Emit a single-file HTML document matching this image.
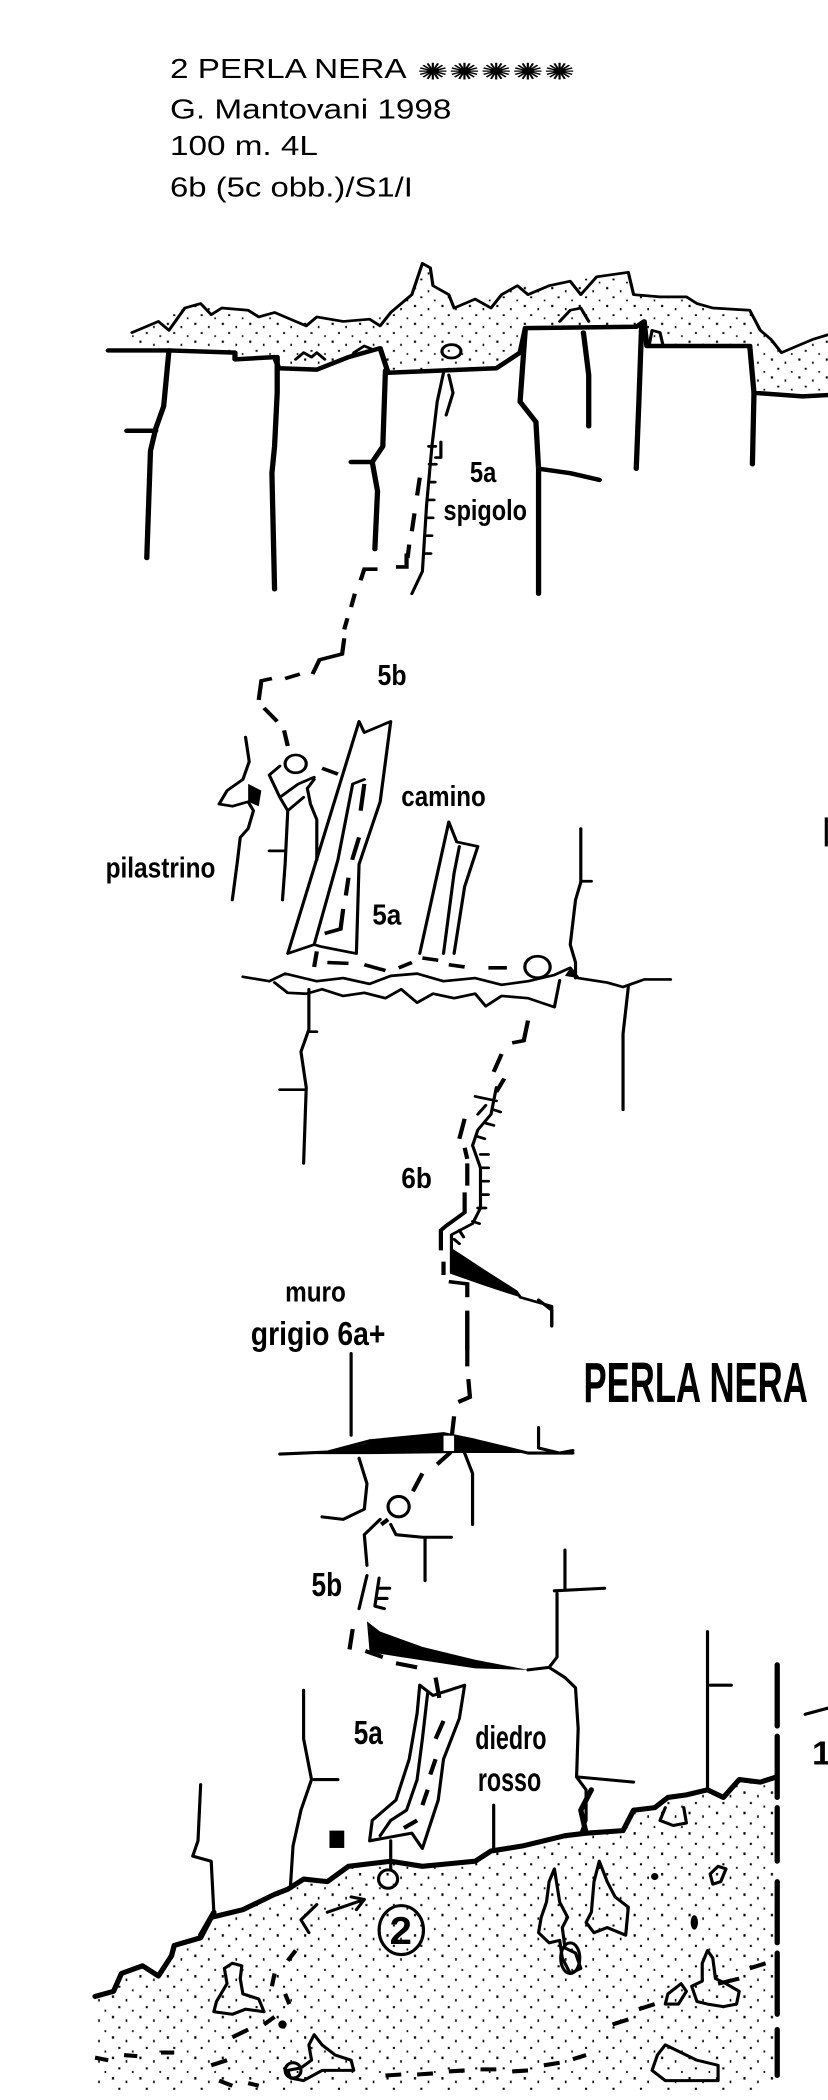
<!DOCTYPE html>
<html><head><meta charset="utf-8"><style>
html,body{margin:0;padding:0;background:#fff;}
svg{display:block;}
.t{font-family:"Liberation Sans",Arial,sans-serif;fill:#000;}
.h{font-family:"Liberation Sans Narrow","Liberation Sans",sans-serif;font-weight:bold;fill:#000;}
.k{fill:none;stroke:#000;stroke-width:10;stroke-linejoin:round;stroke-linecap:round;}
.m{fill:none;stroke:#000;stroke-width:6;stroke-linejoin:round;stroke-linecap:round;}
.d{fill:none;stroke:#000;stroke-width:8;stroke-linecap:butt;}
</style></head><body>
<svg width="828" height="2100" viewBox="0 0 828 2100" xmlns="http://www.w3.org/2000/svg">
<defs>
<pattern id="dots" x="0" y="0" width="52" height="40" patternUnits="userSpaceOnUse">
<rect x="4" y="3" width="4" height="5" fill="#000"/>
<rect x="30" y="10" width="3" height="5" fill="#000"/>
<rect x="16" y="24" width="4" height="4" fill="#000"/>
<rect x="42" y="31" width="3" height="4" fill="#000"/>
</pattern>
</defs>
<rect width="828" height="2100" fill="#fff"/>

<!-- SECTION 1 : orig 0-700 -->
<g transform="translate(0,0) scale(0.528,0.4464)">
<text class="t" x="322" y="175" font-size="62" textLength="448" lengthAdjust="spacingAndGlyphs">2 PERLA NERA</text>
<g font-size="52" class="t">
<text x="790" y="178" textLength="300" lengthAdjust="spacingAndGlyphs">✺✺✺✺✺</text>
</g>
<text class="t" x="322" y="265" font-size="62" textLength="533" lengthAdjust="spacingAndGlyphs">G. Mantovani 1998</text>
<text class="t" x="322" y="347" font-size="62" textLength="280" lengthAdjust="spacingAndGlyphs">100 m. 4L</text>
<text class="t" x="322" y="440" font-size="62" textLength="460" lengthAdjust="spacingAndGlyphs">6b (5c obb.)/S1/I</text>

<path d="M250,745 L300,720 L350,690 L380,680 L420,690 L470,695 L520,700 L560,720 L600,710 L650,720 L700,715 L740,700 L780,660 L800,590 L815,600 L820,640 L850,660 L860,690 L900,670 L950,660 L980,640 L1040,640 L1080,630 L1130,620 L1190,610 L1200,660 L1250,665 L1300,665 L1350,690 L1420,695 L1440,740 L1480,790 L1540,760 L1568,750 L1568,885 L1520,888 L1428,880 L1420,775 L1225,775 L1220,720 L1205,732 L995,735 L985,790 L940,825 L735,835 L720,780 L660,800 L600,828 L528,825 L520,800 L445,805 L445,790 L320,785 L250,785 Z" fill="url(#dots)"/>
<path class="m" d="M250,745 L300,720 L320,740 L350,690 L380,680 L400,705 L420,690 L470,695 L490,710 L520,700 L560,720 L580,730 L600,710 L650,720 L700,715 L720,730 L740,700 L780,660 L800,590 L815,600 L820,640 L850,660 L860,690 L900,670 L930,690 L950,660 L980,640 L1000,660 L1040,640 L1080,630 L1100,660 L1130,620 L1190,610 L1200,660 L1250,665 L1300,665 L1320,680 L1350,690 L1420,695 L1440,740 L1460,760 L1480,790 L1520,770 L1540,760 L1568,750"/>
<ellipse cx="855" cy="787" rx="18" ry="15" class="m"/>
<path class="m" d="M560,805 L575,790 L590,800 L600,790 L615,805 M670,790 L690,775 L710,785 M1060,720 L1080,695 L1100,690 L1115,720 M1230,770 L1235,740 L1250,745 L1255,770"/>
<path class="k" d="M205,785 L320,785 L445,790 L445,805 L520,800 L528,825 L600,828 L660,800 L720,780 L735,835 L940,825 L985,790 L995,735 L1205,732 L1220,720 L1225,775 L1420,775 L1428,880 L1520,888 L1568,885"/>
<path class="k" d="M320,785 L310,910 L295,960 L285,1010 L278,1250 M240,965 L295,965"/>
<path class="k" d="M525,800 L525,880 L520,1000 L515,1060 L520,1320"/>
<path class="k" d="M730,830 L725,1000 L705,1035 L715,1100 L710,1230 M665,1035 L705,1035"/>
<path class="k" d="M995,735 L985,900 L1015,945 L1020,1050 L1020,1330 M1020,1050 L1080,1060 L1135,1075"/>
<path class="k" d="M1105,745 L1115,840 L1115,955"/>
<path class="k" d="M1215,735 L1210,900 L1205,1050"/>
<path class="k" d="M1428,880 L1425,1040"/>
<path class="m" d="M840,835 L828,900 L818,1000 L808,1130 L800,1280 L780,1330 M850,840 L858,880 L845,930"/>
<path class="m" d="M812,1000 L825,1000 M813,1040 L826,1040 M812,1080 L824,1080 M810,1120 L822,1120 M808,1160 L820,1160 M806,1200 L818,1200 M804,1240 L816,1240 M835,990 L835,1025 L825,1025"/>
<path class="d" d="M795,1070 L790,1110 M785,1150 L780,1190 M775,1220 L772,1250 M770,1240 L770,1270 L750,1270 M715,1275 L690,1275 L683,1300 M672,1330 L665,1360 M658,1385 L652,1410 M652,1430 L648,1465 L605,1478 L592,1510 M568,1510 L540,1520 M515,1520 L495,1525 L490,1568"/>
<text class="h" x="890" y="1080" font-size="64" textLength="50" lengthAdjust="spacingAndGlyphs">5a</text>
<text class="h" x="840" y="1165" font-size="64" textLength="158" lengthAdjust="spacingAndGlyphs">spigolo</text>
</g>

<!-- SECTION 3 : orig 650-1350 -->
<g transform="translate(0,650) scale(0.528,0.4464)">
<text class="h" x="715" y="78" font-size="64" textLength="55" lengthAdjust="spacingAndGlyphs">5b</text>
<path class="d" d="M500,130 L525,160 M538,180 L545,215 M610,265 L640,278"/>
<circle cx="560" cy="255" r="20" class="m"/>
<path class="m" d="M465,195 L472,250 L460,290 L430,315 L415,345 L440,350 L470,340 L480,360 L470,400 L455,420 L450,470 L440,560"/>
<path class="m" d="M530,260 L510,280 L530,330 L545,360 L540,480 L535,560 M530,330 L565,300 L595,285 M595,290 L582,310 L588,345 L600,380 L600,470 M510,450 L540,450 M545,360 L575,330"/>
<path d="M470,300 L495,315 L490,350 L470,340 Z" fill="#000"/>
<text class="h" x="200" y="510" font-size="64" textLength="208" lengthAdjust="spacingAndGlyphs">pilastrino</text>
<path class="m" d="M545,680 L680,160 L690,185 L740,160 L720,340 L680,480 L675,680 L610,665 L595,660 L545,680 Z M595,660 L640,470 L668,300 L690,290"/>
<path class="d" d="M690,300 L683,360 M680,420 L667,470 M660,510 L655,550 M650,580 L645,625 L615,635"/>
<text class="h" x="760" y="350" font-size="64" textLength="160" lengthAdjust="spacingAndGlyphs">camino</text>
<text class="h" x="705" y="615" font-size="64" textLength="55" lengthAdjust="spacingAndGlyphs">5a</text>
<path class="m" d="M795,680 L850,385 L865,430 L905,440 L880,530 L860,680 M840,680 L860,500 L870,440"/>
<path class="d" d="M600,675 L595,710 M620,700 L660,702 M690,705 L730,718 M755,712 L780,700 M800,690 L830,695 M850,705 L880,710 M925,712 L960,712"/>
<circle cx="1018" cy="710" r="24" class="m"/>
<path class="m" d="M460,732 L510,742 L540,725 L600,742 L650,735 L700,748 L740,730 L790,725 L840,742 L900,735 L950,750 L1000,742 L1050,728 L1080,712 L1095,735 L1150,745 L1180,755 L1220,738 L1270,738"/>
<path class="m" d="M520,745 L545,768 L580,770 L610,760 L650,775 L690,768 L730,780 L760,760 L790,790 L820,770 L860,780 L900,770 L920,798 L950,775 L1000,780 L1050,800 L1060,740"/>
<path d="M1080,712 L1095,735 L1070,730 Z" fill="#000"/>
<path class="m" d="M1100,400 L1100,520 M1100,518 L1120,518 M1100,520 L1090,560 L1080,660 L1090,700 L1090,735 M1190,755 L1180,860 L1180,1030"/>
<path class="m" d="M585,760 L585,850 M585,855 L600,855 M585,850 L570,900 L580,980 M530,985 L580,985 M580,980 L575,1150"/>
<path class="d" d="M1000,830 L992,875 L970,880 M950,905 L935,945 M955,960 L940,990 M880,1050 L870,1095 M880,1115 L885,1140 M885,1150 L885,1200 M880,1215 L880,1260 L845,1290 L835,1300 L835,1345 M840,1370 L840,1400 M850,1415 L885,1420 L885,1450 M885,1480 L885,1568"/>
<path class="m" d="M940,980 L930,1040 L905,1075 L895,1110 L910,1160 L910,1250 L895,1285 L855,1310 L855,1395 M900,1000 L940,1010 M905,1040 L920,1020"/>
<path class="m" d="M935,1030 L948,1035 M920,1060 L935,1065 M905,1090 L918,1095 M910,1130 L925,1130 M910,1160 L925,1160 M910,1190 L925,1190 M910,1220 L925,1220 M905,1250 L920,1250 M895,1280 L908,1285 M870,1300 L878,1315 M860,1320 L870,1330"/>
<path d="M855,1340 L875,1355 L920,1390 L980,1435 L990,1452 L920,1425 L855,1398 Z" fill="#000"/>
<path class="m" d="M985,1450 L1045,1470 L1045,1515"/>
<text class="h" x="760" y="1205" font-size="64" textLength="58" lengthAdjust="spacingAndGlyphs">6b</text>
<text class="h" x="540" y="1460" font-size="64" textLength="115" lengthAdjust="spacingAndGlyphs">muro</text>
<rect x="1562" y="375" width="6" height="65" fill="#000"/>
</g>

<!-- SECTION 2 : orig 1300-2100 -->
<g transform="translate(0,1300) scale(0.528,0.5102)">
<text class="h" x="475" y="88" font-size="66" textLength="255" lengthAdjust="spacingAndGlyphs">grigio 6a+</text>
<text class="h" x="1105" y="200" font-size="110" textLength="425" lengthAdjust="spacingAndGlyphs">PERLA NERA</text>
<path class="m" d="M665,105 L665,265"/>
<path class="d" d="M885,25 L885,130 M887,155 L890,190 L868,200 M860,228 L852,300 L828,322"/>
<path class="m" d="M1020,0 L1045,20 L1045,50 M1020,250 L1020,290 L1060,300 L1085,295"/>
<path class="m" d="M530,302 L620,298 L700,276 L840,262 L900,275 L1000,300 L1085,300"/>
<path d="M600,302 L690,282 L720,272 L840,262 L870,270 L960,290 L1000,300 L870,300 L700,302 Z" fill="#000"/>
<rect x="840" y="266" width="20" height="30" fill="#fff"/>
<path class="m" d="M680,310 L695,360 L690,410 L650,430 L610,425 M720,430 L690,460 L695,520 M740,440 L750,460 L800,465 L855,465 M805,465 L805,550 M880,300 L895,340 L895,440"/>
<circle cx="755" cy="405" r="20" class="m"/>
<path class="d" d="M800,340 L782,375 M735,430 L722,440"/>
<text class="h" x="590" y="580" font-size="66" textLength="58" lengthAdjust="spacingAndGlyphs">5b</text>
<path class="m" d="M695,540 L680,605 M718,545 L710,600 M720,565 L738,565 M715,585 L733,585 M710,600 L728,605"/>
<path class="d" d="M668,645 L662,685 M692,688 L725,700 M750,712 L790,720 M825,740 L832,780"/>
<path d="M695,630 L720,650 L800,680 L900,705 L1000,725 L900,722 L760,700 L700,690 Z" fill="#000"/>
<path class="m" d="M1000,725 L1040,720 L1070,740 L1090,760 L1095,840 L1092,935 L1110,960 L1110,1020 L1100,1045 M1095,935 L1200,945 M1070,490 L1070,565 M1050,570 L1145,565 M1055,575 L1055,700 L1040,720"/>
<path class="m" d="M795,755 L820,775 L880,755 L870,820 L840,900 L830,980 L800,1075 L780,1045 L700,1060 L705,1020 L750,980 L775,900 L790,810 Z M810,770 L800,860 L790,940 L770,1000 L740,1020 L720,1050"/>
<path class="d" d="M840,825 L825,860 M825,900 L815,930 M810,960 L800,990 M790,1020 L765,1035"/>
<text class="h" x="670" y="870" font-size="66" textLength="55" lengthAdjust="spacingAndGlyphs">5a</text>
<text class="h" x="900" y="880" font-size="66" textLength="135" lengthAdjust="spacingAndGlyphs">diedro</text>
<text class="h" x="905" y="962" font-size="66" textLength="120" lengthAdjust="spacingAndGlyphs">rosso</text>
<path class="m" d="M575,765 L575,860 L590,940 M595,940 L640,940 M590,940 L570,1000 L555,1070 L550,1150"/>
<path class="m" d="M380,950 L375,1060 L365,1090 L400,1100 L405,1200 M935,990 L935,1080 M1340,650 L1340,960 M1345,755 L1385,755 M740,1060 L740,1115"/>
<rect x="624" y="1040" width="28" height="34" fill="#000"/>
<path d="M180,1365 L215,1355 L230,1320 L270,1305 L300,1325 L325,1285 L330,1265 L380,1250 L400,1210 L460,1195 L520,1165 L545,1155 L575,1135 L620,1140 L660,1110 L700,1105 L740,1100 L800,1110 L850,1105 L900,1100 L930,1080 L990,1070 L1070,1050 L1110,1045 L1180,1040 L1200,1000 L1240,995 L1265,975 L1300,970 L1340,960 L1370,975 L1400,940 L1440,945 L1470,935 L1470,1550 L180,1550 Z" fill="url(#dots)"/>
<path class="k" d="M180,1365 L215,1355 L230,1320 L270,1305 L300,1325 L325,1285 L330,1265 L380,1250 L400,1210 L460,1195 L520,1165 L545,1155 L575,1135 L620,1140 L660,1110 L700,1105 L740,1100 L800,1110 L850,1105 L900,1100 L930,1080 L990,1070 L1070,1050 L1110,1045 L1180,1040 L1200,1000 L1240,995 L1265,975 L1300,970 L1340,960 L1370,975 L1400,940 L1440,945 L1470,935"/>
<path class="k" d="M1110,1045 L1100,1000 L1120,960 M405,1200 L380,1245"/>
<path class="k" d="M1472,715 L1472,1100 M1472,1140 L1472,1400 M1472,1430 L1472,1520" stroke-dasharray="120 20"/>
<path class="m" d="M1525,812 L1568,800"/>
<text class="h" x="1538" y="910" font-size="66">1</text>
<circle cx="735" cy="1135" r="18" class="m"/>
<ellipse cx="760" cy="1235" rx="42" ry="48" class="m"/>
<text class="h" x="738" y="1262" font-size="76">2</text>
<path class="m" d="M600,1185 L570,1215 L585,1240 M620,1200 L690,1175 M690,1175 L665,1170 M690,1175 L675,1195"/>
<path class="d" d="M560,1275 L545,1295 M520,1320 L515,1345 M540,1360 L548,1380 M520,1405 L500,1420 M470,1430 L440,1445 M430,1490 L400,1500 M415,1530 L440,1540 M470,1535 L490,1540 M730,1520 L760,1518 M790,1518 L820,1516 M850,1512 L880,1510 M910,1508 L940,1508 M970,1512 L1000,1510 M1030,1500 L1060,1495 M1085,1488 L1110,1480 M1160,1420 L1190,1410 M1210,1390 L1240,1380 M1360,1340 L1400,1330 M1420,1310 L1450,1300 M180,1485 L205,1490 M235,1480 L260,1482 M305,1475 L330,1475"/>
<path class="m" d="M440,1300 L425,1310 L430,1340 L410,1375 L405,1395 L440,1400 L465,1390 L500,1395 L490,1370 L460,1360 L455,1330 L458,1305 Z"/>
<path class="m" d="M595,1440 L585,1460 L590,1490 L570,1505 L545,1510 L550,1525 L575,1530 L610,1510 L670,1510 L665,1490 L635,1480 L610,1460 Z"/>
<path class="m" d="M1050,1115 L1040,1140 L1035,1180 L1025,1210 L1020,1240 L1040,1260 L1060,1255 L1065,1290 L1080,1320 L1100,1310 L1090,1280 L1070,1270 L1065,1230 L1075,1210 L1060,1180 Z M1135,1100 L1125,1140 L1120,1200 L1110,1220 L1125,1240 L1150,1230 L1185,1245 L1190,1190 L1165,1170 L1150,1140 Z"/>
<path class="m" d="M1340,1275 L1330,1300 L1330,1335 L1310,1345 L1320,1375 L1340,1380 L1370,1385 L1395,1380 L1400,1355 L1375,1340 L1355,1330 L1350,1290 Z M1290,1340 L1265,1360 L1260,1380 L1285,1380 L1300,1355 Z M1360,1110 L1345,1125 L1350,1145 L1365,1140 L1375,1115 Z M1260,1460 L1245,1480 L1235,1510 L1260,1530 L1300,1530 L1360,1530 L1360,1500 L1320,1490 L1280,1470 Z"/>
<path class="m" d="M1260,995 L1250,1020 L1275,1030 L1300,1025 L1295,995"/>
<ellipse cx="1080" cy="1290" rx="18" ry="30" class="m"/>
<circle cx="555" cy="1510" r="15" class="m"/>
<circle cx="535" cy="1420" r="8" fill="#000"/>
<ellipse cx="1315" cy="1220" rx="7" ry="14" fill="#000"/>
<circle cx="1240" cy="1130" r="7" fill="#000"/>
</g>
</svg>
</body></html>
